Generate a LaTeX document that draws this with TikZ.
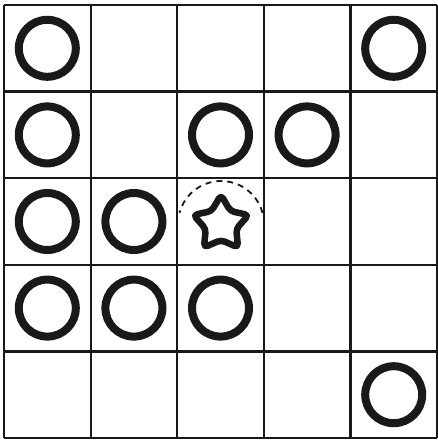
\documentclass[tikz,border=0pt]{standalone}
\usetikzlibrary{calc}
\begin{document}
\begin{tikzpicture}[x=1pt,y=-1pt,
  ring/.style={circle,draw=black!90,line width=8pt,minimum size=57pt,inner sep=0pt},
  gridline/.style={line width=2.2pt,black!90}]
\useasboundingbox (0,0) rectangle (438,441);
% grid
\foreach \i in {0,...,5}{
  \pgfmathsetmacro\gx{4+86.6*\i}
  \pgfmathsetmacro\gy{5+86.6*\i}
  \draw[gridline] (\gx,5) -- (\gx,438);
  \draw[gridline] (4,\gy) -- (437,\gy);
}
% rings: (col,row)
\foreach \c/\r [count=\k] in {0/0,4/0,0/1,2/1,3/1,0/2,1/2,0/3,1/3,2/3,4/4}{
  \pgfmathsetmacro\cx{4+86.6*(\c+0.5)}
  \pgfmathsetmacro\cy{5+86.6*(\r+0.5)}
  \node[ring] (ring\k) at (\cx,\cy) {};
}
% star
\coordinate (starc) at (221,224);
\draw[line width=6.5pt,black!90,line join=round,rounded corners=4pt]
  ($(starc)+(-90:29)$) \foreach \a in {1,...,9}{
    -- ($(starc)+({-90+36*\a}:{ifthenelse(mod(\a,2)==0,29,16)})$)
  } -- cycle;
\draw[line width=1.8pt,black!90,dash pattern=on 6pt off 5pt] ($(starc)+(-15:43)$) arc[start angle=-15,end angle=-165,radius=43];
\end{tikzpicture}
\end{document}
